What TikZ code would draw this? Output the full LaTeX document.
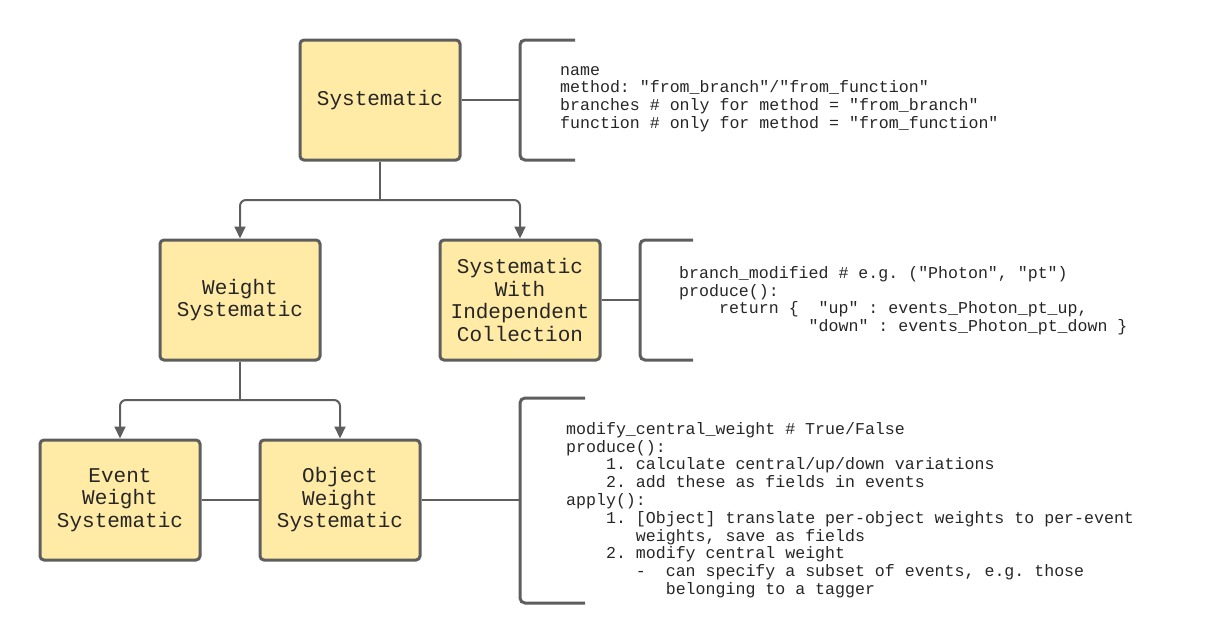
\documentclass[tikz,border=0pt]{standalone}
\usepackage{fontspec}
\setmonofont{Liberation Mono}
\usetikzlibrary{arrows.meta,positioning}
\definecolor{boxfill}{HTML}{FFEBA5}
\definecolor{edgegray}{HTML}{5E5E5E}
\tikzset{
  cls/.style={draw=edgegray, fill=boxfill, line width=3pt, rounded corners=4pt,
    minimum width=160pt, minimum height=120pt, align=center,
    font=\fontsize{21}{22.5}\selectfont\ttfamily, text=black!85},
  note/.style={align=left, anchor=north west, inner sep=0pt,
    font=\fontsize{16.6}{17.8}\selectfont\ttfamily, text=black!85},
  link/.style={draw=edgegray, line width=2pt},
  inherit/.style={link, rounded corners=6pt, -{Triangle[length=12pt,width=11pt]}},
  brace/.style={draw=edgegray, line width=3pt, rounded corners=5pt}
}
\begin{document}
\begin{tikzpicture}[x=1pt,y=-1pt]
\useasboundingbox (0,0) rectangle (1220,643);
\node[cls] (syst) at (380,100) {Systematic};
\node[cls] (wsyst) at (240,300) {Weight\\Systematic};
\node[cls] (indep) at (520,300) {Systematic\\With\\Independent\\Collection};
\node[cls] (evw) at (120,500) {Event\\Weight\\Systematic};
\node[cls] (objw) at (340,500) {Object\\Weight\\Systematic};

% inheritance arrows
\coordinate (sj) at (380,200);
\coordinate (wj) at (240,400);
\draw[link] (syst.south) -- (sj);
\draw[inherit] (sj) -| (wsyst.north);
\draw[inherit] (sj) -| (indep.north);
\draw[link] (wsyst.south) -- (wj);
\draw[inherit] (wj) -| (evw.north);
\draw[inherit] (wj) -| (objw.north);
\draw[link] (evw) -- (objw);

% brackets with notes
\coordinate (b1) at (520,100);
\coordinate (b2) at (640,300);
\coordinate (b3) at (520,500);
\draw[link] (syst) -- (b1);
\draw[brace] (575,40) -- (520,40) -- (520,160) -- (575,160);
\draw[link] (indep) -- (b2);
\draw[brace] (693,240) -- (640,240) -- (640,360) -- (693,360);
\draw[link] (objw) -- (b3);
\draw[brace] (585,398) -- (520,398) -- (520,603) -- (585,603);

\node[note] (n1) at (560,66) {name\\method: "from\_branch"/"from\_function"\\branches \# only for method = "from\_branch"\\function \# only for method = "from\_function"};
\node[note] (n2) at (679,266) {branch\_modified \# e.g. ("Photon", "pt")\\produce():\\\ \ \ \ return \{\ \ "up" : events\_Photon\_pt\_up,\\\ \ \ \ \ \ \ \ \ \ \ \ \ "down" : events\_Photon\_pt\_down \}};
\node[note] (n3) at (566,422) {modify\_central\_weight \# True/False\\produce():\\\ \ \ \ 1. calculate central/up/down variations\\\ \ \ \ 2. add these as fields in events\\apply():\\\ \ \ \ 1. [Object] translate per-object weights to per-event\\\ \ \ \ \ \ \ weights, save as fields\\\ \ \ \ 2. modify central weight\\\ \ \ \ \ \ \ -\ \ can specify a subset of events, e.g. those\\\ \ \ \ \ \ \ \ \ \ belonging to a tagger};
\end{tikzpicture}
\end{document}
